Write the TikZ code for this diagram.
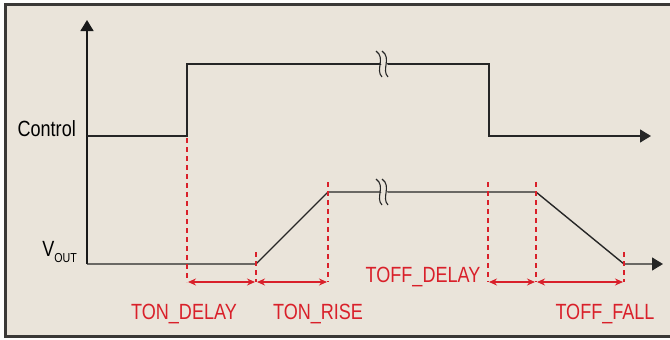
\documentclass[tikz,border=0pt]{standalone}
\usepackage{fontspec}
\setmainfont{Liberation Sans}[FakeStretch=0.82]
\usepackage{xcolor}
\usetikzlibrary{arrows.meta,calc}

\definecolor{paper}{HTML}{EAE4DA}
\definecolor{rim}{HTML}{3A3836}
\definecolor{sigred}{HTML}{D9202A}

\begin{document}
\begin{tikzpicture}[x=1pt, y=-1pt,
    wave/.style={line width=1.4pt, black!85},
    axis/.style={line width=1.4pt, black!90, -{Triangle[length=11pt,width=13pt]}},
    guide/.style={color=sigred, line width=1.1pt, dash pattern=on 5pt off 4pt},
    span/.style={color=sigred, line width=2pt, {Stealth[length=8pt,width=7pt]}-{Stealth[length=8pt,width=7pt]}, shorten <=1pt, shorten >=1pt},
    lbl/.style={font=\fontsize{22}{24}\selectfont, inner sep=0pt},
    tlbl/.style={lbl, text=sigred, anchor=base},
    brk/.style={line width=1.1pt, black!85}
  ]
    \useasboundingbox (0,0) rectangle (670,340);
    % --- FRAME ---
    \fill[white!96!paper] (0,0) rectangle (670,340);
    \draw[rim, fill=paper, line width=3pt] (5.5,4.5) rectangle (690,336.5);

    % --- TIME MARKS ---
    \coordinate (t1) at (187,282);
    \coordinate (t2) at (256,282);
    \coordinate (t3) at (328,282);
    \coordinate (t4) at (488,282);
    \coordinate (t5) at (536,282);
    \coordinate (t6) at (624,282);

    % --- AXIS AND WAVEFORMS ---
    \draw[axis] (87,264) -- (87,20);
    \draw[wave, -{Triangle[length=11pt,width=13pt]}] (87,136) -- (187,136) -- (187,64) -- (489,64) -- (489,136) -- (651,136);
    \draw[wave, -{Triangle[length=11pt,width=13pt]}] (87,264) -- (256,264) -- (328,192) -- (536,192) -- (624,264) -- (663,264);

    % --- BREAK SYMBOLS ---
    \foreach \yy in {64,192} {
      \fill[paper] (378,\yy-4) -- (384,\yy-4) -- (390,\yy+4) -- (384,\yy+4) -- cycle;
      \draw[brk] (376,\yy-13) .. controls (386,\yy-6) and (375,\yy+6) .. (382,\yy+13);
      \draw[brk] (382,\yy-13) .. controls (392,\yy-6) and (381,\yy+6) .. (388,\yy+13);
    }

    % --- GUIDES ---
    \draw[guide] (187,138) -- (t1);
    \draw[guide] (256,252) -- (t2);
    \draw[guide] (328,182) -- (t3);
    \draw[guide] (488,182) -- (t4);
    \draw[guide] (536,182) -- (t5);
    \draw[guide] (624,252) -- (t6);

    % --- SPANS ---
    \draw[span] (t1) -- (t2);
    \draw[span] (t2) -- (t3);
    \draw[span] (t4) -- (t5);
    \draw[span] (t5) -- (t6);

    % --- LABELS ---
    \node[lbl, anchor=base east] (ctrl) at (76,136) {Control};
    \node[lbl, anchor=base east] (vout) at (77,256) {V\raisebox{-6pt}{\fontsize{13}{13}\selectfont OUT}};
    \node[tlbl] (tondelay) at (184,319) {TON\_DELAY};
    \node[tlbl] (tonrise) at (318,319) {TON\_RISE};
    \node[tlbl] (toffdelay) at (423,282) {TOFF\_DELAY};
    \node[tlbl] (tofffall) at (605,319) {TOFF\_FALL};
  \end{tikzpicture}
\end{document}
